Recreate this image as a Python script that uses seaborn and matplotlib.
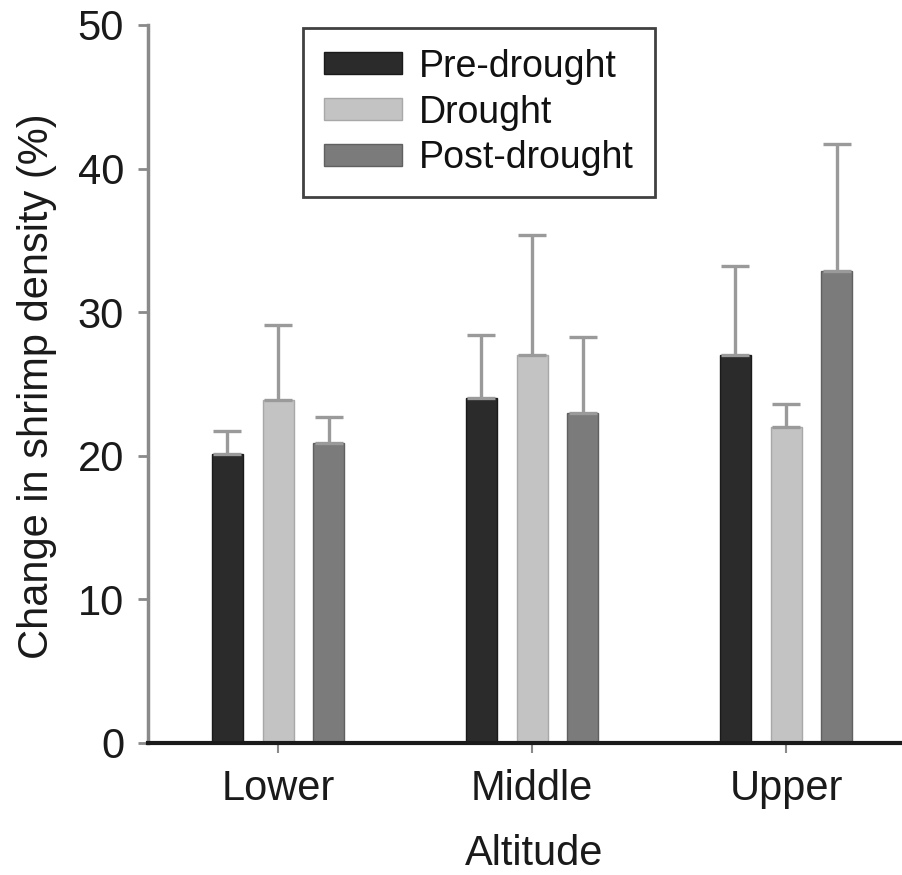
import numpy as np
import pandas as pd
import matplotlib
matplotlib.use("Agg")
import matplotlib.pyplot as plt
import seaborn as sns

altitudes = ["Lower", "Middle", "Upper"]
periods = ["Pre-drought", "Drought", "Post-drought"]
pre_vals = [20.1, 24.0, 27.0]
drought_vals = [23.9, 27.0, 22.0]
post_vals = [20.9, 23.0, 32.9]
pre_err = [1.6, 4.4, 6.2]
drought_err = [5.2, 8.4, 1.6]
post_err = [1.8, 5.3, 8.8]

colors = ["#2b2b2b", "#c3c3c3", "#7b7b7b"]
edge_colors = ["#1a1a1a", "#a8a8a8", "#606060"]

rows = []
for p, vals in zip(periods, [pre_vals, drought_vals, post_vals]):
    for a, v in zip(altitudes, vals):
        rows.append({"Altitude": a, "Period": p, "Value": v})
df = pd.DataFrame(rows)
errs = {"Pre-drought": pre_err, "Drought": drought_err, "Post-drought": post_err}

sns.set_theme(style="white")
plt.rcParams["font.family"] = ["Liberation Sans", "DejaVu Sans"]

W, H = 903, 875
fig = plt.figure(figsize=(W / 100, H / 100), dpi=100)
ax = fig.add_axes([148 / W, 1 - 743 / H, 1 - 148 / W, (743 - 25) / H])

sns.barplot(data=df, x="Altitude", y="Value", hue="Period", order=altitudes,
            hue_order=periods, palette=colors, width=0.6, gap=0.39,
            errorbar=None, ax=ax, saturation=1, legend=True)

for ci, (cont, p) in enumerate(zip(ax.containers, periods)):
    xs = []
    for bar in cont:
        bar.set_edgecolor(edge_colors[ci])
        bar.set_linewidth(1.0)
        xs.append(bar.get_x() + bar.get_width() / 2)
    vals = [b.get_height() for b in cont]
    e = errs[p]
    ax.errorbar(xs, vals, yerr=[np.zeros(len(e)), e], fmt="none",
                ecolor="#9a9a9a", elinewidth=2.4, capsize=10, capthick=2.4,
                zorder=1)

ax.set_xlim(-0.512, 2.46)
ax.set_ylim(0, 50)
ax.set_yticks([0, 10, 20, 30, 40, 50])
ax.tick_params(axis="y", direction="out", length=7.2, width=2, color="#8a8a8a",
               labelsize=30, pad=10, left=True)
ax.tick_params(axis="x", direction="out", length=7, width=1.5, color="#8a8a8a",
               labelsize=30, pad=12, bottom=True)
for lab in ax.get_yticklabels() + ax.get_xticklabels():
    lab.set_color("#1a1a1a")

sns.despine(ax=ax, top=True, right=True)
ax.spines["left"].set_color("#8a8a8a")
ax.spines["left"].set_linewidth(2.5)
ax.spines["bottom"].set_color("#1a1a1a")
ax.spines["bottom"].set_linewidth(3)
ax.spines["left"].set_zorder(0)

ax.set_xlabel("Altitude", fontsize=30, color="#1a1a1a")
ax.set_ylabel("Change in shrimp density (%)", fontsize=30, color="#1a1a1a")
ax.xaxis.set_label_coords(0.511, -0.127)
ax.yaxis.set_label_coords(-0.1205, 0.497)

leg = ax.legend(loc="upper left", bbox_to_anchor=(303 / W, 1 - 28 / H),
                bbox_transform=fig.transFigure, borderaxespad=0,
                fontsize=27, frameon=True, fancybox=False,
                edgecolor="#111111", handlelength=2.1, handleheight=0.53,
                handletextpad=0.45, labelspacing=0.265, borderpad=0.55,
                title=None)
leg.get_frame().set_linewidth(2)
for h, ec in zip(leg.legend_handles, edge_colors):
    h.set_edgecolor(ec)
for t in leg.get_texts():
    t.set_color("#111111")

fig.savefig("out.png", dpi=100)
